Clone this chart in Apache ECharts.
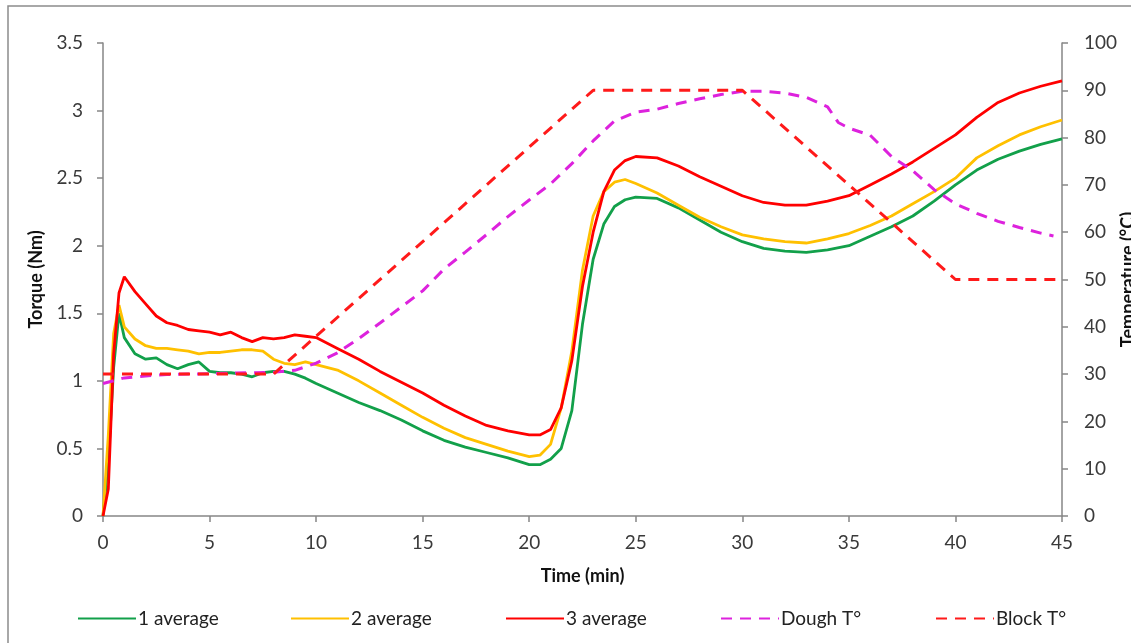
<!DOCTYPE html>
<html>
<head>
<meta charset="utf-8">
<script src="https://cdn.jsdelivr.net/npm/echarts@6/dist/echarts.min.js"></script>
<style>
	html, body { margin: 0; padding: 0; background: #fff; }
	#main { width: 1131px; height: 643px; }
</style>
</head>
<body>
<div id="main"></div>
<script>
	// torque curves, sampled on a shared time base (min)
	var timeMin = [0, 0.25, 0.5, 0.75, 1,
		1.5, 2, 2.5, 3, 3.5, 4, 4.5, 5, 5.5, 6, 6.5, 7, 7.5, 8, 8.5, 9, 9.5, 10,
		11, 12, 13, 14, 15, 16, 17, 18, 19, 20,
		20.5, 21, 21.5, 22, 22.5, 23, 23.5, 24, 24.5, 25,
		26, 27, 28, 29, 30, 31, 32, 33, 34, 35, 36, 37, 38, 39, 40, 41, 42, 43, 44, 45];
	var avg1 = [0, 0.4, 1.1, 1.5, 1.32,
		1.20, 1.16, 1.17, 1.12, 1.09, 1.12, 1.14, 1.07, 1.06, 1.06, 1.05, 1.03, 1.06, 1.07, 1.07, 1.05, 1.02, 0.98,
		0.91, 0.84, 0.78, 0.71, 0.63, 0.56, 0.51, 0.47, 0.43, 0.38,
		0.38, 0.42, 0.50, 0.78, 1.42, 1.90, 2.16, 2.29, 2.34, 2.36,
		2.35, 2.28, 2.19, 2.10, 2.03, 1.98, 1.96, 1.95, 1.97, 2.00, 2.07, 2.14, 2.22, 2.33, 2.45, 2.56, 2.64, 2.70, 2.75, 2.79];
	var avg2 = [0, 0.6, 1.35, 1.56, 1.40,
		1.31, 1.26, 1.24, 1.24, 1.23, 1.22, 1.20, 1.21, 1.21, 1.22, 1.23, 1.23, 1.22, 1.16, 1.13, 1.12, 1.14, 1.12,
		1.08, 1.00, 0.91, 0.82, 0.73, 0.65, 0.58, 0.53, 0.48, 0.44,
		0.45, 0.53, 0.80, 1.22, 1.82, 2.22, 2.40, 2.47, 2.49, 2.46,
		2.39, 2.30, 2.21, 2.14, 2.08, 2.05, 2.03, 2.02, 2.05, 2.09, 2.15, 2.22, 2.31, 2.40, 2.50, 2.65, 2.74, 2.82, 2.88, 2.93];
	var avg3 = [0, 0.2, 1.2, 1.65, 1.77,
		1.66, 1.57, 1.48, 1.43, 1.41, 1.38, 1.37, 1.36, 1.34, 1.36, 1.32, 1.29, 1.32, 1.31, 1.32, 1.34, 1.33, 1.32,
		1.24, 1.16, 1.07, 0.99, 0.91, 0.82, 0.74, 0.67, 0.63, 0.60,
		0.60, 0.64, 0.80, 1.15, 1.70, 2.10, 2.40, 2.56, 2.63, 2.66,
		2.65, 2.59, 2.51, 2.44, 2.37, 2.32, 2.30, 2.30, 2.33, 2.37, 2.45, 2.53, 2.62, 2.72, 2.82, 2.95, 3.06, 3.13, 3.18, 3.22];

	// temperatures (°C)
	var doughTime = [0, 1, 2, 3, 4, 5, 6, 7, 8, 9, 10, 11, 12, 13, 14, 15, 16, 17, 18, 19, 20,
		21, 22, 23, 24, 25, 26, 27, 28, 29, 30, 31, 32, 33, 34, 34.5, 35, 36, 37, 38, 39, 40, 41, 42, 43, 44, 44.6];
	var doughTemp = [28, 29.2, 29.6, 29.9, 30.0, 30.1, 30.2, 30.3, 30.4, 30.8, 32.3, 34.5, 37.5, 40.8, 44.2, 47.6, 52.2, 55.8, 59.5, 63.3, 66.8,
		70.2, 74.5, 79.3, 83.5, 85.4, 86, 87.2, 88.2, 89.1, 89.8, 89.8, 89.4, 88.5, 86.5, 83.2, 82, 80.5, 76, 73, 69, 66, 64, 62.3, 61, 59.8, 59.2];
	var blockTime = [0, 8, 23, 30, 40, 45];
	var blockTemp = [30, 30, 90, 90, 50, 50];

	var xTicks = { min: 0, max: 45, interval: 5 };
	var torqueTicks = { min: 0, max: 3.5, interval: 0.5 };
	var tempTicks = { min: 0, max: 100, interval: 10 };

	var legendNames = ['1 average', '2 average', '3 average', 'Dough T°', 'Block T°'];
	var legendLeft = [77, 290, 505, 720, 935];

	function pairs(xs, ys) {
		return xs.map(function(x, i) { return [x, ys[i]]; });
	}

	var font = 'Lato, "Open Sans", sans-serif';
	var axisGray = '#868686';

	var myChart = echarts.init(document.getElementById('main'), null, { renderer: 'canvas' });

	var axisCommon = {
		axisLine: { show: true, lineStyle: { color: axisGray, width: 1.5 } },
		axisTick: { show: true, inside: false, length: 6, lineStyle: { color: axisGray, width: 1.5 } },
		splitLine: { show: false },
		axisLabel: { color: '#3a3a3a', fontSize: 19, fontFamily: font },
		nameTextStyle: { color: '#111', fontSize: 18, fontWeight: 'bold', fontFamily: font }
	};

	function lineSeries(name, data, color, yIdx, dashed) {
		return {
			name: name,
			type: 'line',
			yAxisIndex: yIdx,
			data: data,
			showSymbol: false,
			symbol: 'none',
			animation: false,
			lineStyle: { color: color, width: dashed ? 3 : 2.8, type: dashed ? [11, 8] : 'solid' },
			itemStyle: { color: color }
		};
	}

	var option = {
		animation: false,
		backgroundColor: '#fff',
		graphic: [{
			type: 'rect',
			shape: { x: 8, y: 6, width: 1140, height: 660 },
			style: { fill: null, stroke: '#8c8c8c', lineWidth: 1.5 },
			silent: true
		}],
		grid: { left: 103, right: 69, top: 43, bottom: 127, containLabel: false, outerBoundsMode: 'none' },
		legend: legendNames.map(function(n, i) {
			return {
				data: [n],
				left: legendLeft[i],
				top: 609,
				padding: 0,
				itemWidth: 58,
				itemHeight: 14,
				itemGap: 0,
				itemStyle: { opacity: 0 },
				textStyle: { color: '#222', fontSize: 19, fontFamily: font, padding: [0, 0, 0, -3] },
				selectedMode: false
			};
		}),
		xAxis: Object.assign({}, axisCommon, {
			type: 'value',
			min: xTicks.min, max: xTicks.max, interval: xTicks.interval,
			name: 'Time (min)',
			nameLocation: 'middle',
			nameGap: 51,
			axisLabel: Object.assign({}, axisCommon.axisLabel, { margin: 17 })
		}),
		yAxis: [
			Object.assign({}, axisCommon, {
				type: 'value',
				position: 'left',
				min: torqueTicks.min, max: torqueTicks.max, interval: torqueTicks.interval,
				name: 'Torque (Nm)',
				nameLocation: 'middle',
				nameRotate: 90,
				nameGap: 54,
				axisLabel: Object.assign({}, axisCommon.axisLabel, { margin: 20 })
			}),
			Object.assign({}, axisCommon, {
				type: 'value',
				position: 'right',
				min: tempTicks.min, max: tempTicks.max, interval: tempTicks.interval,
				name: 'Temperature (°C)',
				nameLocation: 'middle',
				nameRotate: 90,
				nameGap: 57,
				nameMoveOverlap: false,
				axisLabel: Object.assign({}, axisCommon.axisLabel, { margin: 22 })
			})
		],
		series: [
			lineSeries('1 average', pairs(timeMin, avg1), '#12A04A', 0, false),
			lineSeries('2 average', pairs(timeMin, avg2), '#FFC000', 0, false),
			lineSeries('3 average', pairs(timeMin, avg3), '#FF0000', 0, false),
			lineSeries('Dough T°', pairs(doughTime, doughTemp), '#DD22DD', 1, true),
			lineSeries('Block T°', pairs(blockTime, blockTemp), '#FF1A1A', 1, true)
		]
	};

	myChart.setOption(option);
</script>
</body>
</html>
